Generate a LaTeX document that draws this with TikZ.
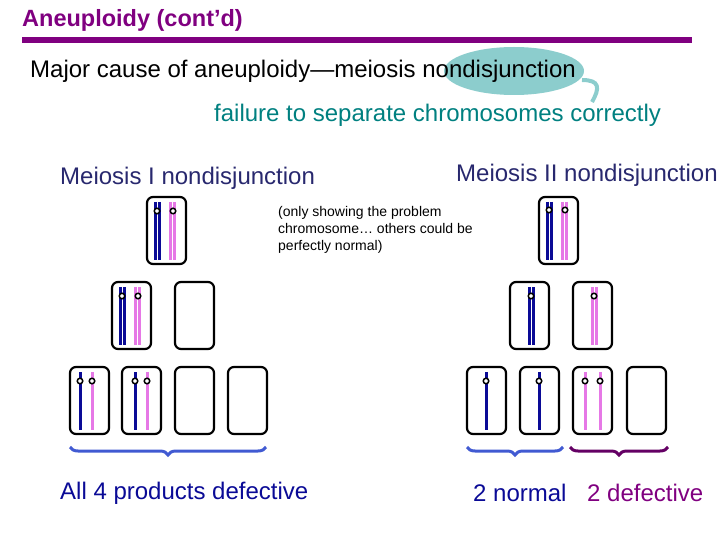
\documentclass[tikz,border=0pt]{standalone}
\usepackage{fontspec}
\setmainfont{Liberation Sans}
\usetikzlibrary{decorations.pathreplacing}
\definecolor{purp}{RGB}{128,0,128}
\definecolor{tealc}{RGB}{0,128,128}
\definecolor{slate}{RGB}{40,40,110}
\definecolor{chblue}{RGB}{10,10,150}
\definecolor{chpink}{RGB}{230,120,230}
\definecolor{brblue}{RGB}{65,90,210}
\definecolor{brpurp}{RGB}{100,0,100}
\definecolor{ell}{RGB}{140,205,205}
\begin{document}
\begin{tikzpicture}[x=1pt,y=-1pt,
  cellbox/.style={draw=black,line width=2.2pt,rounded corners=6pt},
  bl/.style={chblue,line width=3pt},
  pk/.style={chpink,line width=3pt},
  cen/.style={draw=black,fill=white,line width=1.5pt,circle,inner sep=0pt,minimum size=5.5pt},
  lbl/.style={anchor=west,inner sep=0pt,font=\fontsize{24}{28}\selectfont},
  brace/.style={decorate,decoration={brace,amplitude=8pt,mirror},line width=3pt}]
\useasboundingbox (0,0) rectangle (720,540);
\node[anchor=west,inner sep=0pt,text=purp,font=\bfseries\fontsize{23.5}{26}\selectfont] (title) at (22,20) {Aneuploidy (cont’d)};
\draw[purp,line width=6pt] (22,40) -- (692,40);
\fill[ell] (514,71) ellipse (70 and 24);
\draw[ell,line width=4pt] (582,80) .. controls (600,80) and (600,88) .. (592,102);
\node[lbl] (major) at (30,71) {Major cause of aneuploidy—meiosis nondisjunction};
\node[lbl,text=tealc] (fail) at (214,115) {failure to separate chromosomes correctly};
\node[lbl,text=slate] (m1) at (60,178) {Meiosis I nondisjunction};
\node[lbl,text=slate] (m2) at (456,175) {Meiosis II nondisjunction};
\node[anchor=north west,inner sep=0pt,align=left,font=\fontsize{14}{17}\selectfont] (note) at (278,206) {(only showing the problem\\chromosome… others could be\\perfectly normal)};
% cells
\foreach \x/\y in {147/197,112/282,175/282,70/367,122/367,175/367,228/367,539/197,510/282,573/282,467/367,520/367,573/367,627/367}
  \draw[cellbox] (\x,\y) rectangle ++(39,67);
% left chromosomes
\draw[bl] (155,202)--(155,260); \draw[bl] (159.5,202)--(159.5,260);
\draw[pk] (170,202)--(170,260); \draw[pk] (174.5,202)--(174.5,260);
\node[cen] at (157,211) {}; \node[cen] at (173,211) {};
\draw[bl] (120,287)--(120,345); \draw[bl] (124.5,287)--(124.5,345);
\draw[pk] (135,287)--(135,345); \draw[pk] (139.5,287)--(139.5,345);
\node[cen] at (122,296) {}; \node[cen] at (138,296) {};
\draw[bl] (80,372)--(80,430); \draw[pk] (92,372)--(92,430);
\node[cen] at (80,381) {}; \node[cen] at (92,381) {};
\draw[bl] (135,372)--(135,430); \draw[pk] (147,372)--(147,430);
\node[cen] at (135,381) {}; \node[cen] at (147,381) {};
% right chromosomes
\draw[bl] (547,202)--(547,260); \draw[bl] (551.5,202)--(551.5,260);
\draw[pk] (562,202)--(562,260); \draw[pk] (566.5,202)--(566.5,260);
\node[cen] at (549,210) {}; \node[cen] at (565,210) {};
\draw[bl] (529,287)--(529,345); \draw[bl] (533.5,287)--(533.5,345);
\node[cen] at (531,296) {};
\draw[pk] (592,287)--(592,345); \draw[pk] (596.5,287)--(596.5,345);
\node[cen] at (594,296) {};
\draw[bl] (486,372)--(486,430); \node[cen] at (486,381) {};
\draw[bl] (539,372)--(539,430); \node[cen] at (539,381) {};
\draw[pk] (585,372)--(585,430); \draw[pk] (600,372)--(600,430);
\node[cen] at (585,381) {}; \node[cen] at (600,381) {};
% braces
\draw[brace,brblue] (70,447) -- (266,447);
\draw[brace,brblue] (467,447) -- (563,447);
\draw[brace,brpurp] (570,447) -- (668,447);
\node[lbl,text=chblue] (all4) at (60,493) {All 4 products defective};
\node[lbl,text=chblue] (norm) at (473,493) {2 normal};
\node[lbl,text=purp] (def) at (587,493) {2 defective};
\end{tikzpicture}
\end{document}
